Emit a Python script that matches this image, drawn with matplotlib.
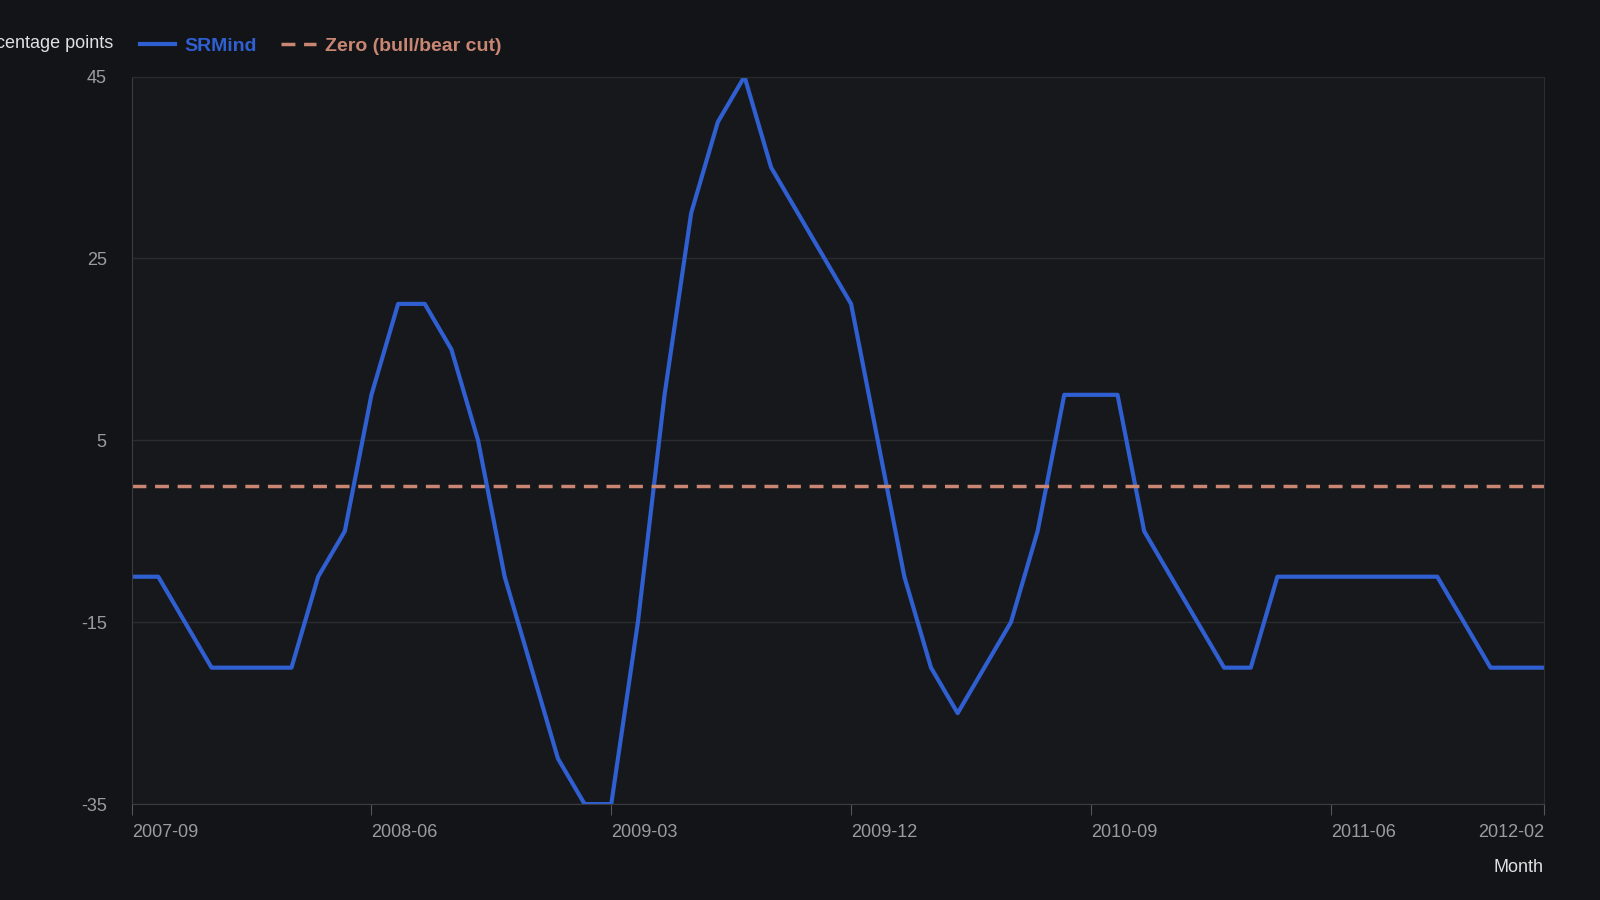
import matplotlib
matplotlib.use("Agg")
import matplotlib.pyplot as plt
import pandas as pd

plt.rcParams['font.family'] = ['Liberation Sans', 'DejaVu Sans']

months = pd.period_range("2007-09", "2012-02", freq="M").strftime("%Y-%m").tolist()
srmind = [-10, -10, -15, -20, -20, -20, -20, -10, -5, 10, 20, 20, 15, 5, -10, -20, -30, -35, -35, -15,
          10, 30, 40, 45, 35, 30, 25, 20, 5, -10, -20, -25, -20, -15, -5, 10, 10, 10, -5, -10,
          -15, -20, -20, -10, -10, -10, -10, -10, -10, -10, -15, -20, -20, -20]
tick_labels = ["2007-09", "2008-06", "2009-03", "2009-12", "2010-09", "2011-06", "2012-02"]
yticks = [-35, -15, 5, 25, 45]

W, H = 1568, 882
bg = "#121418"
fig = plt.figure(figsize=(16, 9), dpi=100, facecolor=bg)
ax = fig.add_axes([129/W, 1-788/H, (1513-129)/W, (788-75)/H])
ax.set_facecolor("#16181c")
x = list(range(len(months)))
ax.plot(x, srmind, color="#2f5fd0", lw=3, label="SRMind")
ax.axhline(0, color="#c98672", lw=2.5, ls=(0, (4, 2.5)), label="Zero (bull/bear cut)")
ax.set_xlim(0, len(months)-1)
ax.set_ylim(-35, 45)
ax.set_yticks(yticks)
ax.set_yticklabels([str(v) for v in yticks], color="#9a9ca0", fontsize=13)
ticks = [months.index(t) for t in tick_labels]
ax.set_xticks(ticks)
ax.set_xticklabels(tick_labels, color="#9a9ca0", fontsize=13)
for lbl in ax.get_xticklabels():
    lbl.set_ha("left")
ax.get_xticklabels()[-1].set_ha("right")
ax.tick_params(axis="x", length=8, color="#555", pad=6)
ax.tick_params(axis="y", length=0, pad=18)
ax.grid(axis="y", color="#2a2c30", lw=1)
for s in ["top", "right"]:
    ax.spines[s].set_color("#2a2c30")
ax.spines["left"].set_color("#3a3c40")
ax.spines["bottom"].set_color("#3a3c40")
fig.text(1513/W, 1-850/H, "Month", color="#e0e0e0", fontsize=13, ha="right", va="center")
fig.text(111/W, 1-43/H, "Percentage points", color="#e0e0e0", fontsize=13, ha="right", va="center")
leg = fig.legend(loc="center left", bbox_to_anchor=(120/W, 1-45/H), ncol=2, frameon=False,
                 fontsize=14, handlelength=1.8, columnspacing=1.2, handletextpad=0.5)
for t, c in zip(leg.get_texts(), ["#2f5fd0", "#c98672"]):
    t.set_color(c); t.set_fontweight("bold")
fig.savefig("out.png", facecolor=bg)
